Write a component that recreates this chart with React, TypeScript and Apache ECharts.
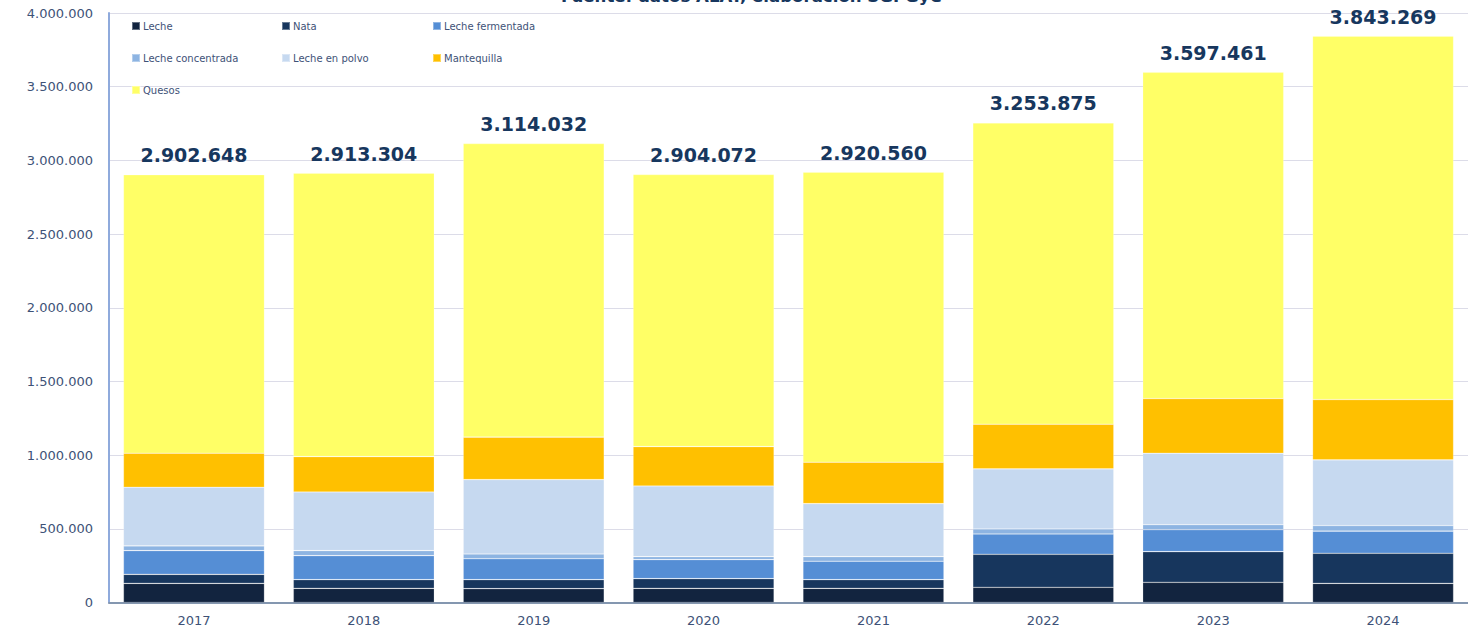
import React, { useEffect, useRef } from "react";
import * as echarts from "echarts";

const years = ["2017", "2018", "2019", "2020", "2021", "2022", "2023", "2024"];
const leche = [130000, 96000, 94000, 96000, 96000, 103000, 137000, 130000];
const nata = [61000, 59000, 61000, 66000, 59000, 224000, 208000, 204000];
const lecheFermentada = [161000, 163000, 142000, 129000, 125000, 138000, 149000, 150000];
const lecheConcentrada = [32000, 34000, 32000, 20000, 31000, 34000, 34000, 38000];
const lecheEnPolvo = [398000, 398000, 505000, 480000, 360000, 408000, 485000, 446000];
const mantequilla = [231000, 240000, 288000, 267000, 281000, 303000, 371000, 409000];
const quesos = [1889648, 1923304, 1992032, 1846072, 1968560, 2043875, 2213461, 2466269];
const totals = [2902648, 2913304, 3114032, 2904072, 2920560, 3253875, 3597461, 3843269];

const seriesNames = [
  "Leche",
  "Nata",
  "Leche fermentada",
  "Leche concentrada",
  "Leche en polvo",
  "Mantequilla",
  "Quesos",
];
const seriesData = [leche, nata, lecheFermentada, lecheConcentrada, lecheEnPolvo, mantequilla, quesos];
const colors = ["#12243F", "#17365D", "#558ED5", "#8DB4E2", "#C6D9F0", "#FFC000", "#FFFF66"];

const titleText = "Fuente: datos ALAT, elaboración SGPGyC";

function fmt(v: number): string {
  const s = Math.round(v).toString();
  return s.replace(/\B(?=(\d{3})+(?!\d))/g, ".");
}

const FONT = "DejaVu Sans";

export default function App() {
  const ref = useRef<HTMLDivElement>(null);
  useEffect(() => {
    document.body.style.margin = "0";
    if (!ref.current) return;
    const chart = echarts.init(ref.current, undefined, { renderer: "svg" });
    const legendCols = [131, 281, 432];
    const legendRows = [21, 53, 85];
    const legends = seriesNames.map((n, i) => ({
      data: [n],
      left: legendCols[i % 3],
      top: legendRows[Math.floor(i / 3)],
      orient: "horizontal",
      padding: 0,
      itemWidth: 8,
      itemHeight: 8,
      itemGap: 3,
      icon: "rect",
      selectedMode: false,
      textStyle: { fontFamily: FONT, fontSize: 10, color: "#3E5277", padding: [0, 0, 0, -2] },
    }));
    chart.setOption({
      animation: false,
      color: colors,
      grid: { left: 109, width: 1363, top: 13, bottom: 24.5, containLabel: false },
      legend: legends,
      graphic: [
        {
          type: "text",
          left: 561,
          top: -12,
          style: {
            text: titleText,
            fontFamily: FONT,
            fontSize: 16.6,
            fontWeight: "bold",
            fill: "#17375E",
          },
        },
      ],
      xAxis: {
        type: "category",
        data: years,
        axisLine: { show: true, lineStyle: { color: "#8497B0", width: 2 } },
        axisTick: { show: false },
        axisLabel: { fontFamily: FONT, fontSize: 13, color: "#3E5277", margin: 11 },
      },
      yAxis: {
        type: "value",
        min: 0,
        max: 4000000,
        interval: 500000,
        axisLine: { show: true, lineStyle: { color: "#8FAADC", width: 2 } },
        axisTick: { show: false },
        splitLine: { lineStyle: { color: "#DCDCE8", width: 1 } },
        axisLabel: {
          fontFamily: FONT,
          fontSize: 13,
          color: "#3E5277",
          margin: 16,
          formatter: (v: number) => fmt(v),
        },
      },
      series: seriesNames.map((name, i) => ({
        name,
        type: "bar",
        stack: "total",
        barWidth: 141,
        data: seriesData[i],
        itemStyle: { color: colors[i], borderColor: "rgba(255,255,255,0.35)", borderWidth: 0.6 },
        label:
          i === seriesNames.length - 1
            ? {
                show: true,
                position: "top",
                distance: 10,
                formatter: (p: any) => fmt(totals[p.dataIndex]),
                fontFamily: FONT,
                fontSize: 19,
                fontWeight: "bold",
                color: "#17375E",
              }
            : { show: false },
      })),
    });
    return () => chart.dispose();
  }, []);
  return <div ref={ref} style={{ width: 1468, height: 627 }} />;
}
